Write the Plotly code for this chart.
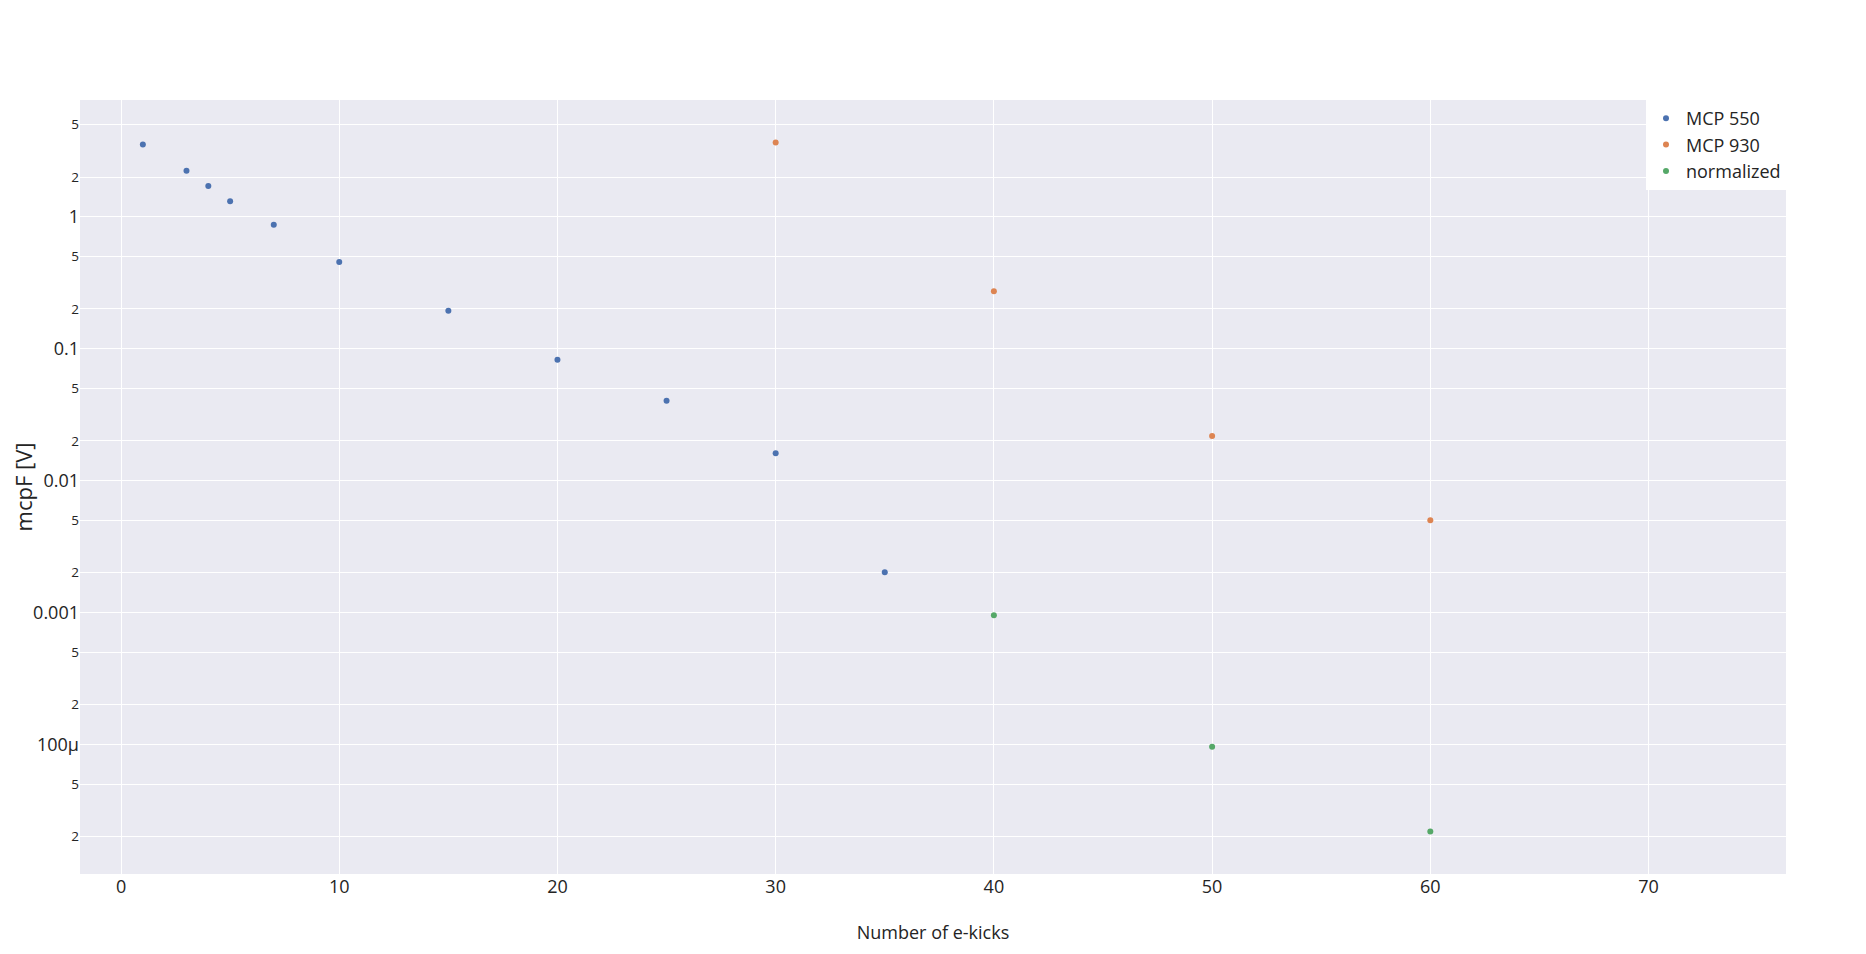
import plotly.graph_objects as go

# MCP 550
kicks_550 = [1, 3, 4, 5, 7, 10, 15, 20, 25, 30, 35]
mcpf_550 = [3.53, 2.23, 1.71, 1.31, 0.868, 0.453, 0.194, 0.0824, 0.0403, 0.0161, 0.00202]

# MCP 930
kicks_930 = [30, 40, 50, 60]
mcpf_930 = [3.66, 0.273, 0.0218, 0.0050]

# normalized
kicks_norm = [40, 50, 60]
mcpf_norm = [0.00095, 0.000096, 0.0000218]

fig = go.Figure()
fig.add_trace(go.Scatter(x=kicks_550, y=mcpf_550, mode="markers", name="MCP 550"))
fig.add_trace(go.Scatter(x=kicks_930, y=mcpf_930, mode="markers", name="MCP 930"))
fig.add_trace(go.Scatter(x=kicks_norm, y=mcpf_norm, mode="markers", name="normalized"))

fig.update_layout(
    template="seaborn",
    margin=dict(l=72, r=72, t=92, b=72),
    font=dict(family="Open Sans, verdana, arial, sans-serif", size=18),
    legend=dict(x=1, y=1, xanchor="right", yanchor="top", bgcolor="white",
                font=dict(size=18)),
    xaxis=dict(title=dict(text="Number of e-kicks", font=dict(size=18), standoff=29),
               range=[-1.88, 76.3], tickfont=dict(size=18), automargin=False),
    yaxis=dict(title=dict(text="mcpF [V]", font=dict(size=22), standoff=21),
               type="log", dtick="D2", tickfont=dict(size=18), automargin=False),
)

fig.write_html("out.html")
